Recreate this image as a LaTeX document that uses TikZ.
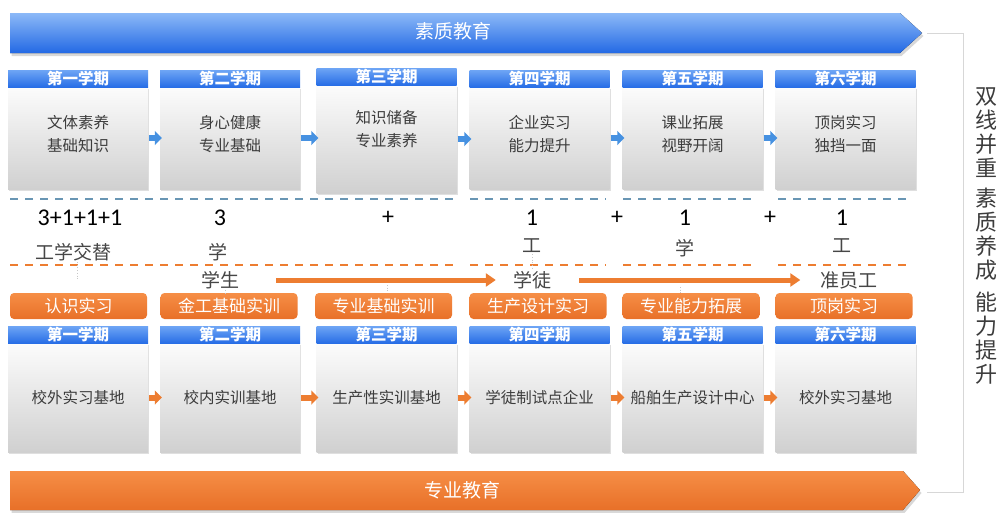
\documentclass[tikz,border=0pt]{standalone}
\usepackage{fontspec}
\setmainfont{Noto Sans CJK SC}
\newfontfamily\numfont{Carlito}
\usetikzlibrary{shadows,arrows.meta,calc}
\definecolor{bigBT}{RGB}{140,185,248}
\definecolor{bigBB}{RGB}{35,105,228}
\definecolor{hdrT}{RGB}{110,165,245}
\definecolor{hdrB}{RGB}{40,110,230}
\definecolor{grayT}{RGB}{252,252,252}
\definecolor{grayB}{RGB}{208,208,208}
\definecolor{txtgray}{RGB}{60,60,60}
\definecolor{lblgray}{RGB}{70,70,70}
\definecolor{orng}{RGB}{237,125,49}
\definecolor{oT}{RGB}{246,142,70}
\definecolor{oB}{RGB}{232,112,40}
\definecolor{dashblue}{RGB}{105,150,180}
\definecolor{barrowc}{RGB}{70,145,225}
\definecolor{brk}{RGB}{215,215,215}
\begin{document}
\begin{tikzpicture}[x=1pt,y=-1pt,
  hdr/.style={minimum width=140pt, minimum height=17pt, inner sep=0pt, top color=hdrT, bottom color=hdrB, text=white, font=\fontsize{15.5}{15.5}\selectfont\bfseries},
  bodybox/.style={minimum width=140pt, inner sep=0pt, top color=grayT, bottom color=grayB, drop shadow={opacity=0.25, shadow xshift=1.2pt, shadow yshift=-1.5pt}},
  btxt/.style={align=center, text=txtgray, font=\fontsize{15.5}{22.5}\selectfont, inner sep=0pt},
  obox/.style={minimum width=137pt, minimum height=26pt, inner sep=0pt, rounded corners=4pt, top color=oT, bottom color=oB, text=white, font=\fontsize{17}{17}\selectfont},
  blk/.style={line width=6pt, -{Triangle[length=7pt,width=14pt]}, shorten <=1pt, shorten >=-2pt},
  flow/.style={line width=5pt, orng, -{Triangle[length=10pt,width=13pt]}},
  num/.style={font=\numfont\fontsize{24}{24}\selectfont, text=black, inner sep=0pt},
  lbl/.style={font=\fontsize{19}{19}\selectfont, text=lblgray, inner sep=1pt},
  bdash/.style={dashblue, line width=2pt, dash pattern=on 8pt off 7pt},
  odash/.style={orng, line width=2pt, dash pattern=on 8pt off 7pt},
  faint/.style={black!22, dotted, line width=0.7pt},
  vtxt/.style={align=center, font=\fontsize{22}{24}\selectfont, text=txtgray, inner sep=0pt},
  bigtxt/.style={text=white, font=\fontsize{19}{19}\selectfont}
]
\fill[white] (0,0) rectangle (1003,512);
\useasboundingbox (0,0) rectangle (1003,512);

% top big arrow
\fill[top color=bigBT, bottom color=bigBB, drop shadow={opacity=0.3, shadow xshift=1.5pt, shadow yshift=-3pt}]
  (10,13) -- (900,13) -- (922,33) -- (900,53) -- (10,53) -- cycle;
\node[bigtxt] (suzhi) at (453,31) {素质教育};
\coordinate (topTip) at (927,33);

% bottom big arrow
\fill[top color=oT, bottom color=oB, drop shadow={opacity=0.3, shadow xshift=1.5pt, shadow yshift=-3pt}]
  (10,471) -- (903,471) -- (920,490) -- (903,510) -- (10,510) -- cycle;
\node[bigtxt] (zhuanye) at (462,490) {专业教育};
\coordinate (botTip) at (927,492);

% bracket
\draw[brk, line width=0.8pt] (topTip) -- (963,33) -- (963,492) -- (botTip);

% vertical text
\node[vtxt] (v1) at (986,133) {双\\线\\并\\重};
\node[vtxt] (v2) at (986,234) {素\\质\\养\\成};
\node[vtxt] (v3) at (986,338) {能\\力\\提\\升};

% top semester boxes
\foreach \i/\cx/\hy/\by/\bh/\ty/\sem/\txt in {
  1/78/78.5/138/102/134/第一学期/{文体素养\\基础知识},
  2/230/78.5/138/102/134/第二学期/{身心健康\\专业基础},
  3/386.5/76.5/139/108/129/第三学期/{知识储备\\专业素养},
  4/539.5/78.5/138/102/134/第四学期/{企业实习\\能力提升},
  5/692.5/78.5/138/102/134/第五学期/{课业拓展\\视野开阔},
  6/845.5/78.5/138/102/134/第六学期/{顶岗实习\\独挡一面}}{
  \node[bodybox, minimum height=\bh pt] (t\i) at (\cx,\by) {};
  \node[hdr] (th\i) at (\cx,\hy) {\sem};
  \node[btxt] (tt\i) at (\cx,\ty) {\txt};
}
\foreach \i/\j in {1/2,2/3,3/4,4/5,5/6}
  \draw[blk, barrowc] (t\i.east) -- (t\j.west |- t\i.east);

% bottom semester boxes
\foreach \i/\cx/\sem/\txt in {
  1/78/第一学期/校外实习基地,
  2/230/第二学期/校内实训基地,
  3/386.5/第三学期/生产性实训基地,
  4/539.5/第四学期/学徒制试点企业,
  5/692.5/第五学期/船舶生产设计中心,
  6/845.5/第六学期/校外实习基地}{
  \node[bodybox, minimum height=109pt] (b\i) at (\cx,397.5) {};
  \node[hdr] (bh\i) at (\cx,334.5) {\sem};
  \node[btxt] (bt\i) at (\cx,398) {\txt};
}
\foreach \i/\j in {1/2,2/3,3/4,4/5,5/6}
  \draw[blk, orng] (b\i.east) -- (b\j.west |- b\i.east);

% dashed separators
\foreach \a/\b in {10/455, 470/606, 623/752, 778/912}{
  \draw[bdash] (\a,199) -- (\b,199);
  \draw[odash] (\a,265) -- (\b,265);
}

% numbers
\node[num] (n1) at (80,218) {3+1+1+1};
\node[num] (n2) at (220,218) {3};
\node[num] (n3) at (388,218) {+};
\node[num] (n4) at (532,218) {1};
\node[num] (n5) at (617,218) {+};
\node[num] (n6) at (685,218) {1};
\node[num] (n7) at (770,218) {+};
\node[num] (n8) at (842,218) {1};

% labels
\node[lbl] (l1) at (73,252) {工学交替};
\node[lbl] (l2) at (218,252) {学};
\node[lbl] (l3) at (532,246) {工};
\node[lbl] (l4) at (685,248) {学};
\node[lbl] (l5) at (842,246) {工};

% orange boxes
\node[obox] (o1) at (78.5,306) {认识实习};
\node[obox] (o2) at (229,306) {金工基础实训};
\node[obox] (o3) at (383.5,306) {专业基础实训};
\node[obox] (o4) at (538,306) {生产设计实习};
\node[obox] (o5) at (691,306) {专业能力拓展};
\node[obox] (o6) at (844,306) {顶岗实习};

% stages
\node[lbl] (stu) at (220,280) {学生};
\node[lbl] (app) at (532,280) {学徒};
\node[lbl] (emp) at (849,280) {准员工};
\draw[flow, shorten <=36pt, shorten >=16pt] (stu) -- (app);
\draw[flow, shorten <=27pt, shorten >=19pt] (app) -- (emp);

% faint dotted guides
\draw[faint] (l1.south -| 77,0) -- (77,280);
\draw[faint] (stu.south -| 225,0) -- (o2.north -| 225,0);
\draw[faint] (l3.south) -- (532,268);
\draw[faint] (387,285) -- (o3.north -| 387,0);
\draw[faint] (680,287) -- (o5.north -| 680,0);
\end{tikzpicture}
\end{document}
